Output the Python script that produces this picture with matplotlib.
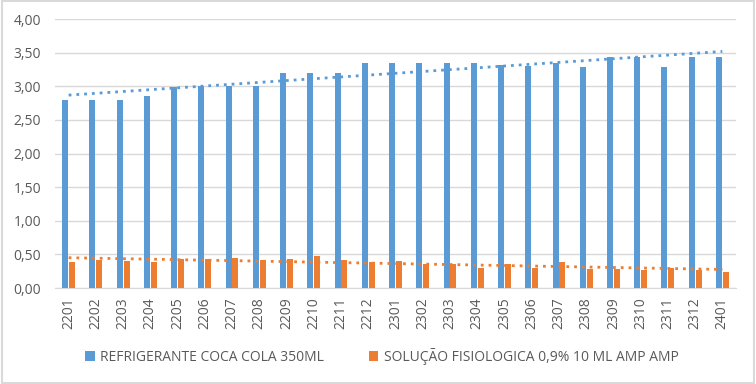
import numpy as np
import matplotlib.pyplot as plt
from matplotlib.patches import Rectangle

periodos = ["2201", "2202", "2203", "2204", "2205", "2206", "2207", "2208", "2209", "2210",
            "2211", "2212", "2301", "2302", "2303", "2304", "2305", "2306", "2307", "2308",
            "2309", "2310", "2311", "2312", "2401"]
coca = [2.80, 2.80, 2.80, 2.86, 2.99, 3.00, 3.00, 3.01, 3.19, 3.19,
        3.19, 3.34, 3.34, 3.34, 3.34, 3.34, 3.32, 3.30, 3.34, 3.28,
        3.44, 3.44, 3.29, 3.44, 3.44]
soro = [0.38, 0.42, 0.40, 0.38, 0.43, 0.43, 0.45, 0.41, 0.43, 0.47,
        0.41, 0.38, 0.40, 0.36, 0.35, 0.30, 0.35, 0.30, 0.39, 0.28,
        0.28, 0.27, 0.30, 0.27, 0.24]
nome_coca = "REFRIGERANTE COCA COLA 350ML"
nome_soro = "SOLUÇÃO FISIOLOGICA 0,9% 10 ML AMP AMP"

azul = "#5b9bd5"
laranja = "#ed7d31"
cinza = "#595959"

plt.rcParams['font.family'] = ['Open Sans', 'DejaVu Sans']

fig = plt.figure(figsize=(7.56, 3.84), dpi=100)
ax = fig.add_axes([0.0728, 0.25, 0.9007, 0.7005])

x = np.arange(len(periodos))
w = 0.22
ax.bar(x - 0.125, coca, w, color=azul, label=nome_coca, zorder=3)
ax.bar(x + 0.125, soro, w, color=laranja, label=nome_soro, zorder=3)

# linhas de tendencia (linear)
for serie, cor in [(coca, azul), (soro, laranja)]:
    a, b = np.polyfit(x, serie, 1)
    ax.plot(x, a * x + b, linestyle=(0, (1, 1.8)), color=cor, lw=2, zorder=4)

ax.set_xlim(-0.5, len(periodos) - 0.5)
ax.set_ylim(0, 4)
ax.set_yticks(np.arange(0, 4.01, 0.5))
ax.set_yticklabels([f"{v:.2f}".replace(".", ",") for v in np.arange(0, 4.01, 0.5)])
ax.set_xticks(x)
ax.set_xticklabels(periodos, rotation=90)
ax.tick_params(axis='both', length=0, colors=cinza, labelsize=10)
ax.tick_params(axis='x', pad=7)
ax.tick_params(axis='y', pad=10)
ax.grid(axis='y', color="#d9d9d9", lw=1, zorder=0)
for s in ["top", "right", "left"]:
    ax.spines[s].set_visible(False)
ax.spines["bottom"].set_color("#d9d9d9")

fig.legend(loc="center", bbox_to_anchor=(0.505, 0.072), ncol=2, frameon=False,
           fontsize=10, labelcolor=cinza, handlelength=0.7, handleheight=0.7,
           columnspacing=3.2, handletextpad=0.4)

fig.patches.append(Rectangle((0.002, 0.003), 0.996, 0.994, transform=fig.transFigure,
                             fill=False, edgecolor="#d9d9d9", lw=1.5))

fig.savefig("out.png", dpi=100)
